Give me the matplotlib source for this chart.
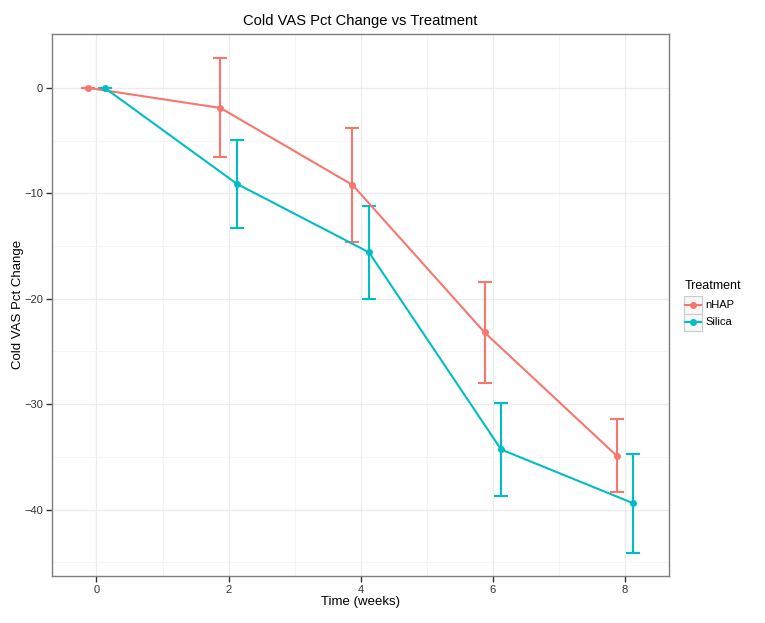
import matplotlib
matplotlib.use('Agg')
import matplotlib.pyplot as plt
from matplotlib.lines import Line2D
from matplotlib.patches import Rectangle

plt.rcParams['font.family'] = ['Liberation Sans', 'DejaVu Sans']

# data
weeks = [0, 2, 4, 6, 8]
groups = ['nHAP', 'Silica']
means = {
    'nHAP': [0.0, -1.9, -9.2, -23.2, -34.9],
    'Silica': [0.0, -9.1, -15.6, -34.3, -39.4],
}
errs = {
    'nHAP': [0.0, 4.7, 5.4, 4.8, 3.45],
    'Silica': [0.0, 4.2, 4.4, 4.4, 4.7],
}
colors = {'nHAP': '#F8766D', 'Silica': '#00BFC4'}
dodge = {'nHAP': -0.125, 'Silica': 0.125}

W, H = 765, 623
fig = plt.figure(figsize=(W / 100, H / 100), dpi=100)
ax = fig.add_axes([52.2 / W, 1 - 576 / H, (668.6 - 52.2) / W, (576 - 33.6) / H])

for g in groups:
    xs = [w + dodge[g] for w in weeks]
    ax.errorbar(xs, means[g], yerr=errs[g], color=colors[g], lw=1.5,
                capsize=5, capthick=1.5, marker='o', ms=4, zorder=3)

ax.set_xlim(-0.67, 8.66)
ax.set_ylim(-46.3, 5.15)
ax.set_xticks(weeks)
ax.set_yticks([0, -10, -20, -30, -40])
ax.set_yticklabels(['0', '\u221210', '\u221220', '\u221230', '\u221240'])
ax.set_xticks([1, 3, 5, 7], minor=True)
ax.set_yticks([-5, -15, -25, -35, -45], minor=True)
ax.grid(which='major', color='#EBEBEB', lw=0.9, zorder=0)
ax.grid(which='minor', color='#F4F4F4', lw=0.6, zorder=0)
ax.set_axisbelow(True)
for s in ax.spines.values():
    s.set_color('#7F7F7F')
    s.set_linewidth(1.0)
ax.tick_params(which='major', length=4, width=1, color='#333333',
               labelsize=8, labelcolor='#333333', pad=2.5)
ax.tick_params(which='minor', length=0)
ax.set_xlabel('Time (weeks)', fontsize=9.5, labelpad=1)
ax.set_ylabel('Cold VAS Pct Change', fontsize=9.5)
ax.yaxis.set_label_coords(-0.046, 0.5)
ax.set_title('Cold VAS Pct Change vs Treatment', fontsize=10.6, pad=6)

# legend drawn by hand so the key boxes get ggplot style borders
fig.text(685 / W, 1 - 286 / H, 'Treatment', fontsize=9, va='center', ha='left')
for i, g in enumerate(groups):
    top = 296 + i * 17.5
    fig.patches.append(Rectangle((683.5 / W, 1 - (top + 17.5) / H), 18.5 / W, 17.5 / H,
                                 transform=fig.transFigure, fc='#F7F7F7',
                                 ec='#CCCCCC', lw=0.8))
    yc = 1 - (top + 8.75) / H
    fig.lines.append(Line2D([685 / W, 700.5 / W], [yc, yc], transform=fig.transFigure,
                            color=colors[g], lw=1.5))
    fig.lines.append(Line2D([692.7 / W], [yc], transform=fig.transFigure,
                            color=colors[g], marker='o', ms=4))
    fig.text(705 / W, yc, g, fontsize=8, va='center', ha='left')

fig.savefig('out.png', dpi=100)
